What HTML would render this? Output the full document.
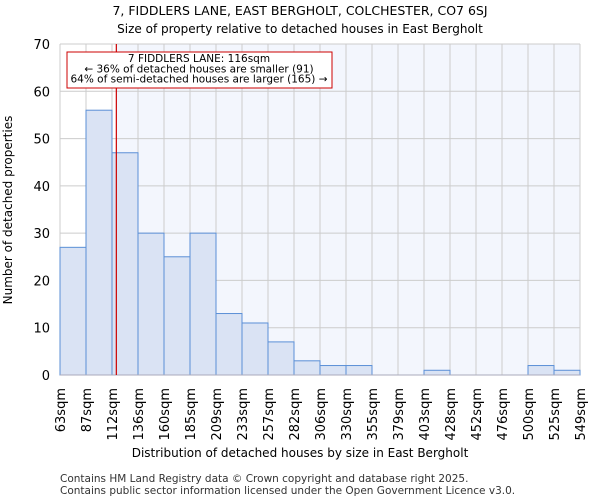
<!DOCTYPE html>
<html><head><meta charset="utf-8"><style>body{margin:0;background:#fff}svg{display:block;font-family:"DejaVu Sans","Liberation Sans",sans-serif}</style></head>
<body>
<svg id="c" width="600" height="500">
<text x="300" y="15" text-anchor="middle" font-size="12.5">7, FIDDLERS LANE, EAST BERGHOLT, COLCHESTER, CO7 6SJ</text>
<text x="300" y="33" text-anchor="middle" font-size="12">Size of property relative to detached houses in East Bergholt</text>
<text x="300" y="457" text-anchor="middle" font-size="12">Distribution of detached houses by size in East Bergholt</text>
<text transform="translate(12,210) rotate(-90)" text-anchor="middle" font-size="12">Number of detached properties</text>
<text x="60" y="482" font-size="10.5" fill="#333">Contains HM Land Registry data © Crown copyright and database right 2025.</text>
<text x="60" y="494" font-size="10.5" fill="#333">Contains public sector information licensed under the Open Government Licence v3.0.</text>
<g id="plot"></g>
</svg>
<script>
const labels=["63sqm","87sqm","112sqm","136sqm","160sqm","185sqm","209sqm","233sqm","257sqm","282sqm","306sqm","330sqm","355sqm","379sqm","403sqm","428sqm","452sqm","476sqm","500sqm","525sqm","549sqm"];
const counts=[27,56,47,30,25,30,13,11,7,3,2,2,0,0,1,0,0,0,2,1];
const yTicks=[0,10,20,30,40,50,60,70];
const marker=116;
const edges=[63,87,112,136,160,185,209,233,257,282,306,330,355,379,403,428,452,476,500,525,549];
const L=60,R=580,T=44,B=375,yMax=70;
const ns="http://www.w3.org/2000/svg",g=document.getElementById("plot");
const xi=i=>L+(R-L)*i/counts.length;
const y=v=>B-(B-T)*v/yMax;
function xv(v){for(let i=0;i<edges.length-1;i++)if(v<=edges[i+1])return xi(i)+(v-edges[i])/(edges[i+1]-edges[i])*(xi(i+1)-xi(i));return R;}
function mk(t,a){const e=document.createElementNS(ns,t);for(const k in a)e.setAttribute(k,a[k]);g.appendChild(e);return e;}
const mx=xv(marker);
let e=mk("rect",{x:mx,y:T,width:R-mx,height:B-T,fill:"#f3f6fd"});


yTicks.forEach(t=>{let l=mk("line",{x1:L,x2:R,y1:y(t),y2:y(t),stroke:"#ccc"});


let tx=mk("text",{x:L-10,y:y(t)+5,"text-anchor":"end","font-size":"13"});tx.textContent=t;

});
labels.forEach((s,i)=>{let l=mk("line",{x1:xi(i),x2:xi(i),y1:T,y2:B,stroke:"#ccc"});


let tx=mk("text",{transform:`translate(${xi(i)+5},388) rotate(-90)`,"text-anchor":"end","font-size":"13"});tx.textContent=s;

});
counts.forEach((c,i)=>{if(!c)return;let r=mk("rect",{x:xi(i),y:y(c),width:xi(i+1)-xi(i),height:B-y(c),fill:"#dae3f4",stroke:"#5b8fd6","stroke-width":"1"});

});
e=mk("line",{x1:L,x2:R,y1:B,y2:B,stroke:"#aab"});


e=mk("line",{x1:mx,x2:mx,y1:T,y2:B,stroke:"#c00","stroke-width":"1.2"});


e=mk("rect",{x:67,y:52,width:265,height:36,fill:"#fff",stroke:"#c00"});


["7 FIDDLERS LANE: 116sqm","← 36% of detached houses are smaller (91)","64% of semi-detached houses are larger (165) →"].forEach((s,i)=>{let t=mk("text",{x:199,y:62+i*10.3,"text-anchor":"middle","font-size":"10.5"});t.textContent=s;

});
</script>
</body></html>
